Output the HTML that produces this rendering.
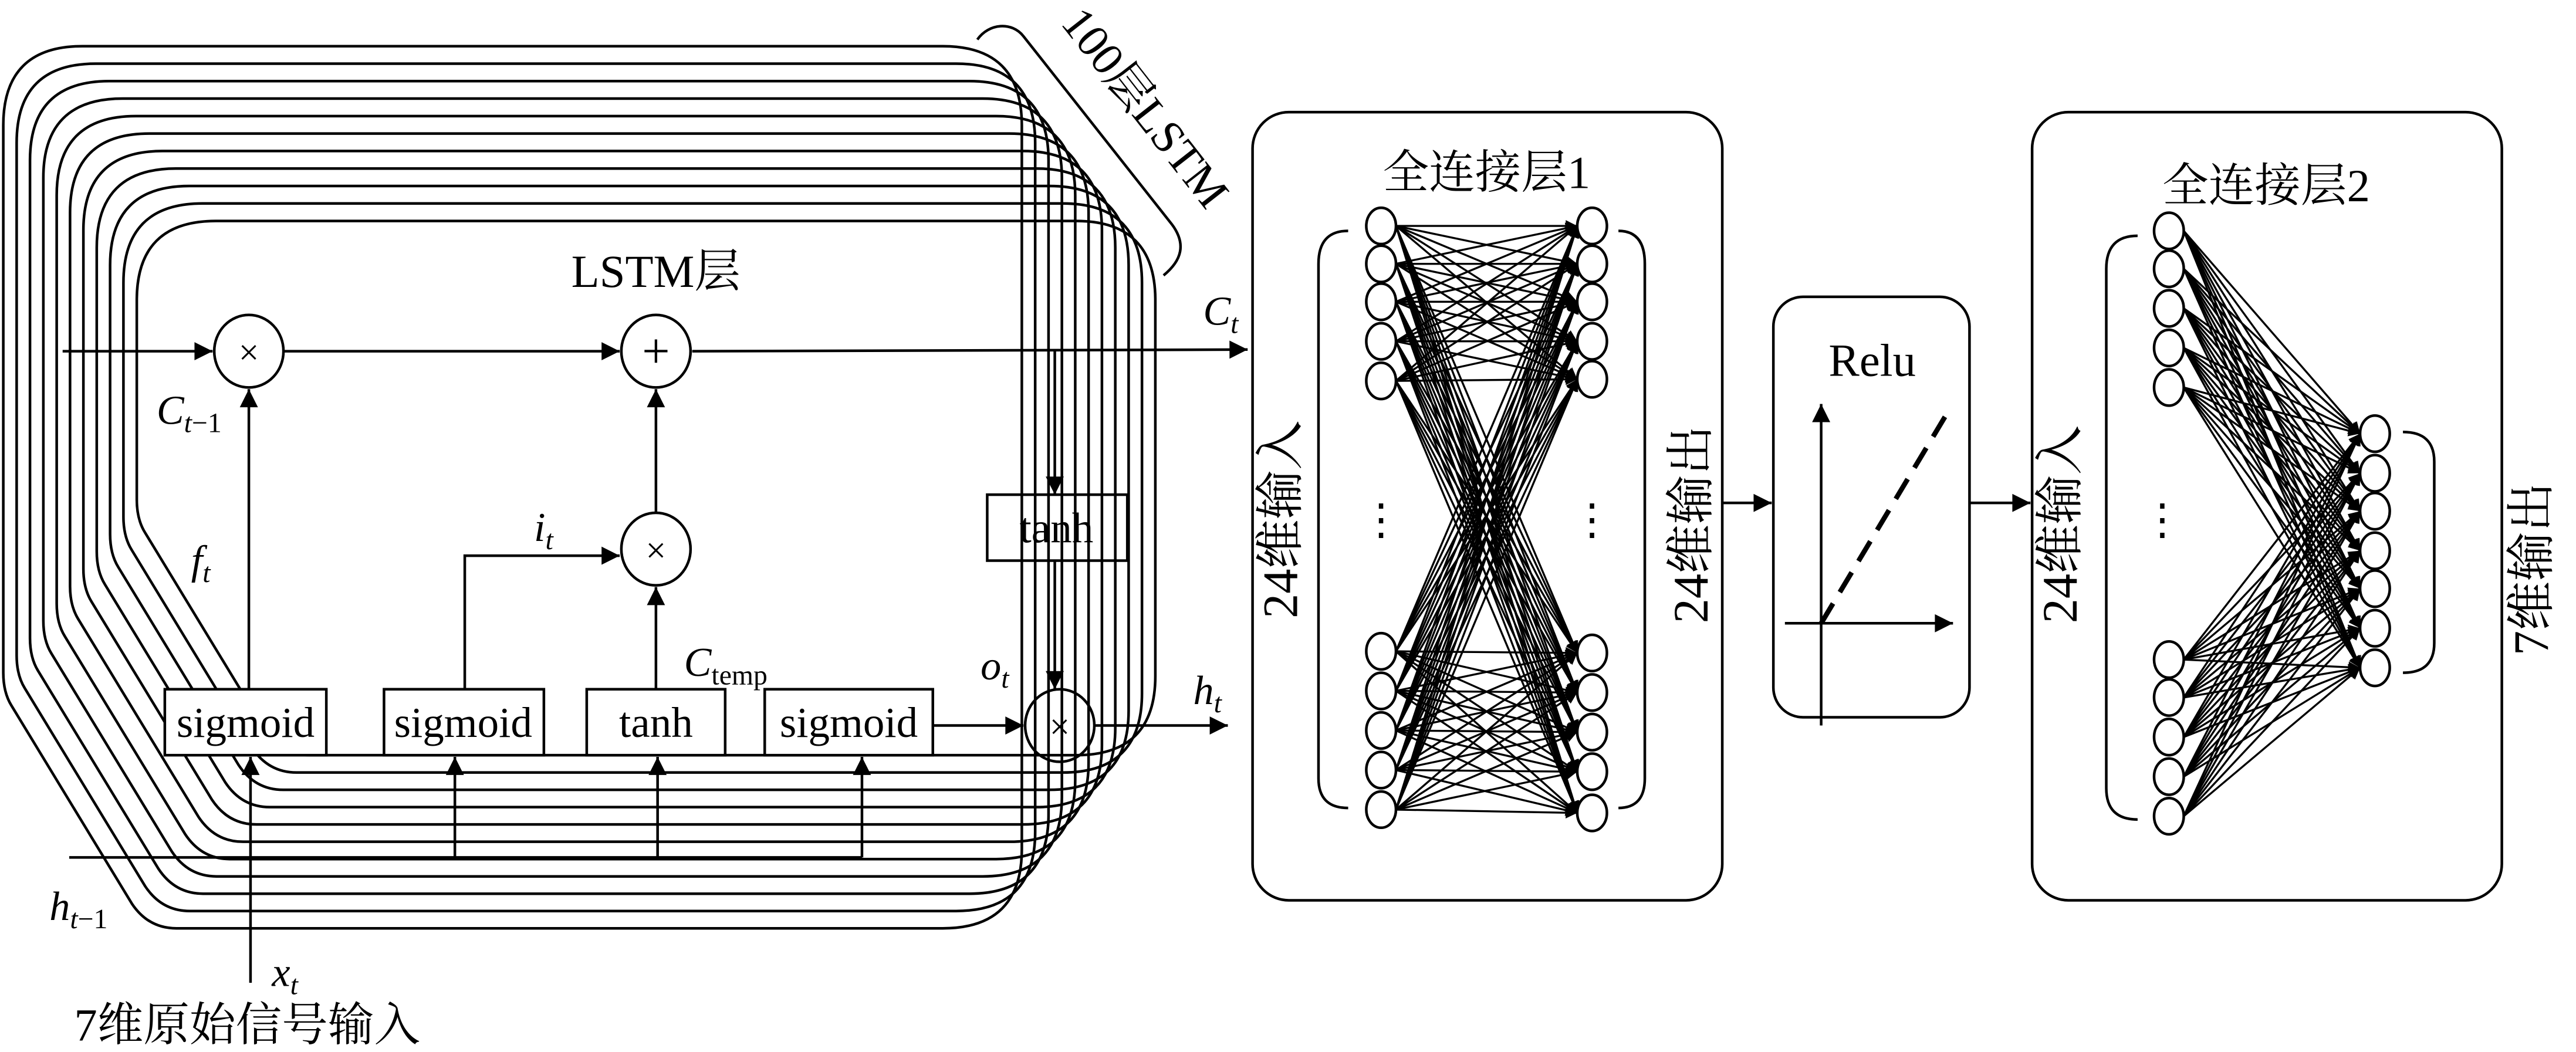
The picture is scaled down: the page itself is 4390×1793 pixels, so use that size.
<!DOCTYPE html>
<html><head><meta charset="utf-8"><style>
html,body{margin:0;padding:0;background:#fff;}
svg{display:block;}
text,tspan{font-family:"Liberation Serif","Times New Roman","DejaVu Serif","Noto Serif CJK SC",serif;fill:#000;}
</style></head><body>
<svg id="s" width="4390" height="1793" viewBox="0 0 1563 638" preserveAspectRatio="none" xmlns="http://www.w3.org/2000/svg">
<defs>
<marker id="a" viewBox="0 0 10 10" refX="10" refY="5" markerWidth="10" markerHeight="7" markerUnits="userSpaceOnUse" orient="auto"><path d="M0,0L10,5L0,10Z"/></marker>
<marker id="b" viewBox="0 0 10 10" refX="10" refY="5" markerWidth="16" markerHeight="11" markerUnits="userSpaceOnUse" orient="auto"><path d="M0,0L10,5L0,10Z"/></marker>
</defs>
<g id="stack" fill="none" stroke="#000" stroke-width="1.6"></g>
<g fill="none" stroke="#000" stroke-width="1.6">
<line x1="38" y1="213" x2="129" y2="213" marker-end="url(#b)"/>
<line x1="172" y1="213" x2="376" y2="213" marker-end="url(#b)"/>
<line x1="420" y1="213" x2="757" y2="212" marker-end="url(#b)"/>
<ellipse cx="151" cy="213" rx="21" ry="22" fill="#fff"/>
<ellipse cx="398" cy="213" rx="21" ry="22" fill="#fff"/>
<ellipse cx="398" cy="333" rx="21" ry="22" fill="#fff"/>
<line x1="151" y1="418" x2="151" y2="236" marker-end="url(#b)"/>
<polyline points="282,418 282,337 376,337" marker-end="url(#b)"/>
<line x1="398" y1="311" x2="398" y2="236" marker-end="url(#b)"/>
<line x1="398" y1="418" x2="398" y2="356" marker-end="url(#b)"/>
<line x1="566" y1="440" x2="621" y2="440" marker-end="url(#b)"/>
<line x1="664" y1="440" x2="745" y2="440" marker-end="url(#b)"/>
<line x1="640" y1="213" x2="640" y2="300" marker-end="url(#b)"/>
<line x1="640" y1="340" x2="640" y2="418" marker-end="url(#b)"/>
<rect x="599" y="300" width="85" height="40" fill="none"/>
<ellipse cx="643" cy="440" rx="21" ry="22"/>
<line x1="42" y1="520" x2="523" y2="520"/>
<line x1="276" y1="520" x2="276" y2="459" marker-end="url(#b)"/>
<line x1="399" y1="520" x2="399" y2="459" marker-end="url(#b)"/>
<line x1="523" y1="520" x2="523" y2="459" marker-end="url(#b)"/>
<line x1="152" y1="596" x2="152" y2="459" marker-end="url(#b)"/>
<rect x="100" y="418" width="98" height="40" fill="#fff"/>
<rect x="233" y="418" width="97" height="40" fill="#fff"/>
<rect x="356" y="418" width="84" height="40" fill="#fff"/>
<rect x="464" y="418" width="102" height="40" fill="#fff"/>
<path d="M593,24 C600,14 614,13 621,22 L711,136 C720,148 717,158 706,167"/>
<rect x="760" y="68" width="285" height="478" rx="22"/>
<rect x="1076" y="180" width="119" height="255" rx="18"/>
<rect x="1233" y="68" width="285" height="478" rx="22"/>
<line x1="1045" y1="305" x2="1075" y2="305" marker-end="url(#b)"/>
<line x1="1195" y1="305" x2="1232" y2="305" marker-end="url(#b)"/>
<line x1="1105" y1="440" x2="1105" y2="245" marker-end="url(#b)"/>
<line x1="1083" y1="378" x2="1185" y2="378" marker-end="url(#b)"/>
<line x1="1105" y1="378" x2="1183" y2="248" stroke-width="3" stroke-dasharray="14,8"/>
<path d="M818,140 Q800,140 800,160 L800,472 Q800,490 818,490"/>
<path d="M982,140 Q998,140 998,160 L998,472 Q998,490 982,490"/>
<path d="M1297,143 Q1278,143 1278,163 L1278,478 Q1278,497 1297,497"/>
<path d="M1458,262 Q1477,262 1477,280 L1477,390 Q1477,408 1458,408"/>
</g>
<g id="fc" stroke="#000" stroke-width="1.2" fill="none"></g>
<g id="nodes" stroke="#000" stroke-width="1.6" fill="#fff"></g>
<g font-size="26" font-family="Liberation Serif, Times New Roman, DejaVu Serif, Noto Serif CJK SC, serif">
<text x="149" y="447" text-anchor="middle">sigmoid</text>
<text x="281" y="447" text-anchor="middle">sigmoid</text>
<text x="398" y="447" text-anchor="middle">tanh</text>
<text x="515" y="447" text-anchor="middle">sigmoid</text>
<text x="641" y="329" text-anchor="middle">tanh</text>
<text x="151" y="221" text-anchor="middle" font-size="22">×</text>
<text x="398" y="341" text-anchor="middle" font-size="22">×</text>
<text x="643" y="448" text-anchor="middle" font-size="22">×</text>
<text x="398" y="223" text-anchor="middle" font-size="30">+</text>
<text x="398" y="174" text-anchor="middle" font-size="28">LSTM层</text>
<text x="95" y="257" font-style="italic" font-size="25">C<tspan font-size="17" dy="5">t</tspan><tspan font-size="17" font-style="normal">−1</tspan></text>
<text x="116" y="348" font-style="italic" font-size="25">f<tspan font-size="17" dy="5">t</tspan></text>
<text x="324" y="328" font-style="italic" font-size="25">i<tspan font-size="17" dy="5">t</tspan></text>
<text x="415" y="410" font-style="italic" font-size="25">C<tspan font-size="17" dy="5" font-style="normal">temp</tspan></text>
<text x="595" y="412" font-style="italic" font-size="25">o<tspan font-size="17" dy="5">t</tspan></text>
<text x="724" y="427" font-style="italic" font-size="25">h<tspan font-size="17" dy="5">t</tspan></text>
<text x="730" y="197" font-style="italic" font-size="25">C<tspan font-size="17" dy="5">t</tspan></text>
<text x="30" y="558" font-style="italic" font-size="25">h<tspan font-size="17" dy="5">t</tspan><tspan font-size="17" font-style="normal">−1</tspan></text>
<text x="165" y="598" font-style="italic" font-size="25">x<tspan font-size="17" dy="5">t</tspan></text>
<text x="45" y="631" font-size="28">7维原始信号输入</text>
<text transform="translate(643,14) rotate(52)" font-size="28">100层LSTM</text>
<text x="902" y="114" text-anchor="middle" font-size="28">全连接层1</text>
<text x="1375" y="122" text-anchor="middle" font-size="28">全连接层2</text>
<text x="1136" y="228" text-anchor="middle" font-size="28">Relu</text>
<text transform="translate(787,315) rotate(-90)" text-anchor="middle" font-size="30">24维输入</text>
<text transform="translate(1036,318) rotate(-90)" text-anchor="middle" font-size="30">24维输出</text>
<text transform="translate(1260,318) rotate(-90)" text-anchor="middle" font-size="30">24维输入</text>
<text transform="translate(1546,345) rotate(-90)" text-anchor="middle" font-size="30">7维输出</text>
<text x="838" y="324" text-anchor="middle" font-size="26">⋮</text>
<text x="966" y="324" text-anchor="middle" font-size="26">⋮</text>
<text x="1312" y="324" text-anchor="middle" font-size="26">⋮</text>
</g>
<script>
(function(){
var NS="http://www.w3.org/2000/svg";
function el(p,t,a){var e=document.createElementNS(NS,t);for(var k in a)e.setAttribute(k,a[k]);p.appendChild(e);return e;}
var st=document.getElementById('stack');
for(var i=0;i<11;i++){
 var l=2+8.1*i,r=620+8.1*i,t=28+10.6*i,b=563-10.5*i,R=48;
 var d="M"+(l+R)+","+t+" H"+(r-R)+" Q"+r+","+t+" "+r+","+(t+R)+
  " V"+(b-R)+" Q"+r+","+b+" "+(r-R)+","+b+
  " H"+(l+105)+" Q"+(l+88)+","+b+" "+(l+78)+","+(b-15)+
  " L"+(l+5)+","+(b-135)+" Q"+l+","+(b-143)+" "+l+","+(b-155)+
  " V"+(t+R)+" Q"+l+","+t+" "+(l+R)+","+t+" Z";
 el(st,'path',{d:d});
}
var fc=document.getElementById('fc'),nd=document.getElementById('nodes');
var L1=[137,160,183,207,231,395,419,443,467,491],R1=[137,160,183,207,230,396,420,444,468,493];
L1.forEach(function(y1){R1.forEach(function(y2){el(fc,'line',{x1:847,y1:y1,x2:957,y2:y2,'marker-end':'url(#a)'});});});
var L2=[140,163,187,211,235,400,423,447,471,495],R2=[263,287,310,334,357,381,405];
L2.forEach(function(y1){R2.forEach(function(y2){el(fc,'line',{x1:1325,y1:y1,x2:1432,y2:y2,'marker-end':'url(#a)'});});});
L1.forEach(function(y){el(nd,'ellipse',{cx:838,cy:y,rx:9,ry:11});});
R1.forEach(function(y){el(nd,'ellipse',{cx:966,cy:y,rx:9,ry:11});});
L2.forEach(function(y){el(nd,'ellipse',{cx:1316,cy:y,rx:9,ry:11});});
R2.forEach(function(y){el(nd,'ellipse',{cx:1441,cy:y,rx:9,ry:11});});
})();
</script>
</svg>
</body></html>
